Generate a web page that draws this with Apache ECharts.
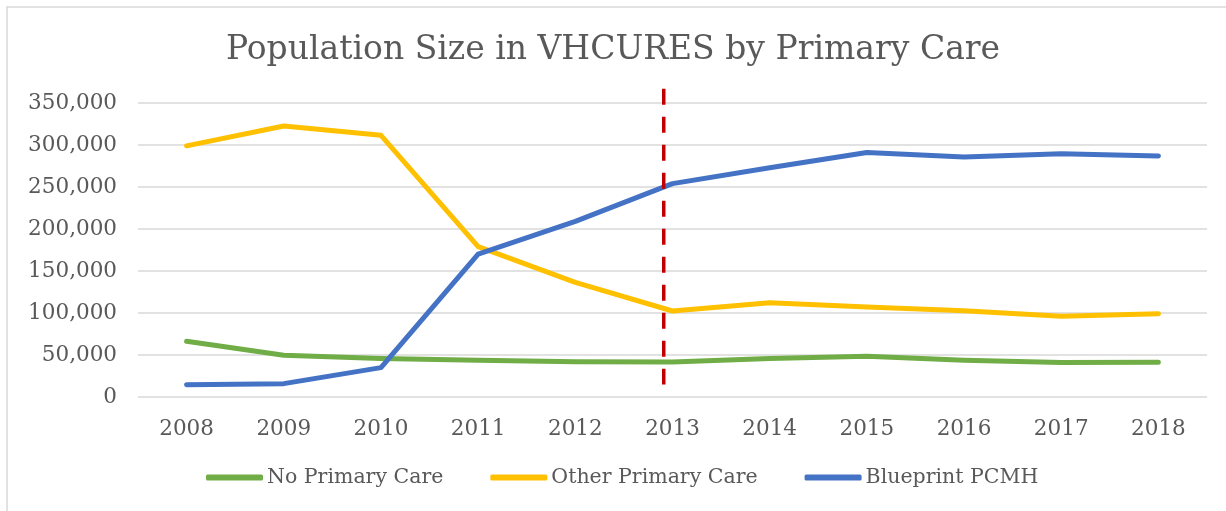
<!DOCTYPE html>
<html>
<head>
<meta charset="utf-8">
<script src="https://cdn.jsdelivr.net/npm/echarts@6/dist/echarts.min.js"></script>
<style>
  html, body { margin: 0; padding: 0; background: #fff; }
  #chart { width: 1226px; height: 511px; }
</style>
</head>
<body>
<div id="chart"></div>
<script>
var years = ['2008', '2009', '2010', '2011', '2012', '2013', '2014', '2015', '2016', '2017', '2018'];
var noPrimaryCare = [66300, 49600, 45700, 43700, 42000, 41700, 45700, 48500, 43700, 41000, 41300];
var otherPrimaryCare = [299000, 322600, 311500, 179000, 136500, 102400, 112300, 107000, 102600, 96000, 99200];
var blueprintPCMH = [14700, 15900, 35000, 170000, 209000, 254000, 273000, 291000, 285700, 289700, 287000];
// dashed marker near 2013 (x in category units, y in population)
var cutoffLine = [[4.91, 367000], [4.91, 14800]];

var font = 'DejaVu Serif';
var textColor = '#595959';

var chart = echarts.init(document.getElementById('chart'));
chart.setOption({
  backgroundColor: '#fff',
  animation: false,
  graphic: [{
    type: 'rect',
    shape: { x: 7, y: 7, width: 1240, height: 530 },
    style: { fill: 'none', stroke: '#D9D9D9', lineWidth: 1.5 },
    silent: true
  }],
  title: {
    text: 'Population Size in VHCURES by Primary Care',
    left: 'center',
    top: 29,
    textStyle: { fontFamily: font, fontSize: 33, fontWeight: 'normal', color: textColor }
  },
  grid: { left: 138, right: 19, top: 103, bottom: 114, containLabel: false },
  legend: {
    data: ['No Primary Care', 'Other Primary Care', 'Blueprint PCMH'],
    bottom: 18,
    left: 201,
    icon: 'roundRect',
    itemWidth: 57,
    itemHeight: 6,
    itemGap: 47,
    textStyle: { fontFamily: font, fontSize: 20.5, color: textColor, padding: [0, 0, 0, -1] }
  },
  xAxis: [{
    type: 'category',
    data: years,
    boundaryGap: true,
    axisLine: { show: false },
    axisTick: { show: false },
    axisLabel: { fontFamily: font, fontSize: 21.5, color: textColor, margin: 21 }
  }, {
    type: 'value',
    min: -0.5,
    max: 10.5,
    show: false
  }],
  yAxis: {
    type: 'value',
    min: 0,
    max: 350000,
    interval: 50000,
    axisLine: { show: false },
    axisTick: { show: false },
    splitLine: { lineStyle: { color: '#D9D9D9', width: 1.5 } },
    axisLabel: {
      fontFamily: font, fontSize: 21.5, color: textColor, margin: 21,
      formatter: function (v) { return v.toLocaleString('en-US'); }
    }
  },
  series: [{
    name: 'No Primary Care',
    type: 'line',
    data: noPrimaryCare,
    symbol: 'none',
    color: '#70AD47',
    lineStyle: { width: 5, color: '#70AD47', cap: 'round', join: 'round' }
  }, {
    name: 'Other Primary Care',
    type: 'line',
    data: otherPrimaryCare,
    symbol: 'none',
    color: '#FFC000',
    lineStyle: { width: 5, color: '#FFC000', cap: 'round', join: 'round' }
  }, {
    name: 'Blueprint PCMH',
    type: 'line',
    data: blueprintPCMH,
    symbol: 'none',
    color: '#4472C4',
    lineStyle: { width: 5, color: '#4472C4', cap: 'round', join: 'round' }
  }, {
    name: 'cutoff',
    type: 'line',
    xAxisIndex: 1,
    data: cutoffLine,
    symbol: 'none',
    clip: false,
    z: 5,
    lineStyle: { width: 3.5, color: '#C00000', type: [16, 12] }
  }]
});
</script>
</body>
</html>
